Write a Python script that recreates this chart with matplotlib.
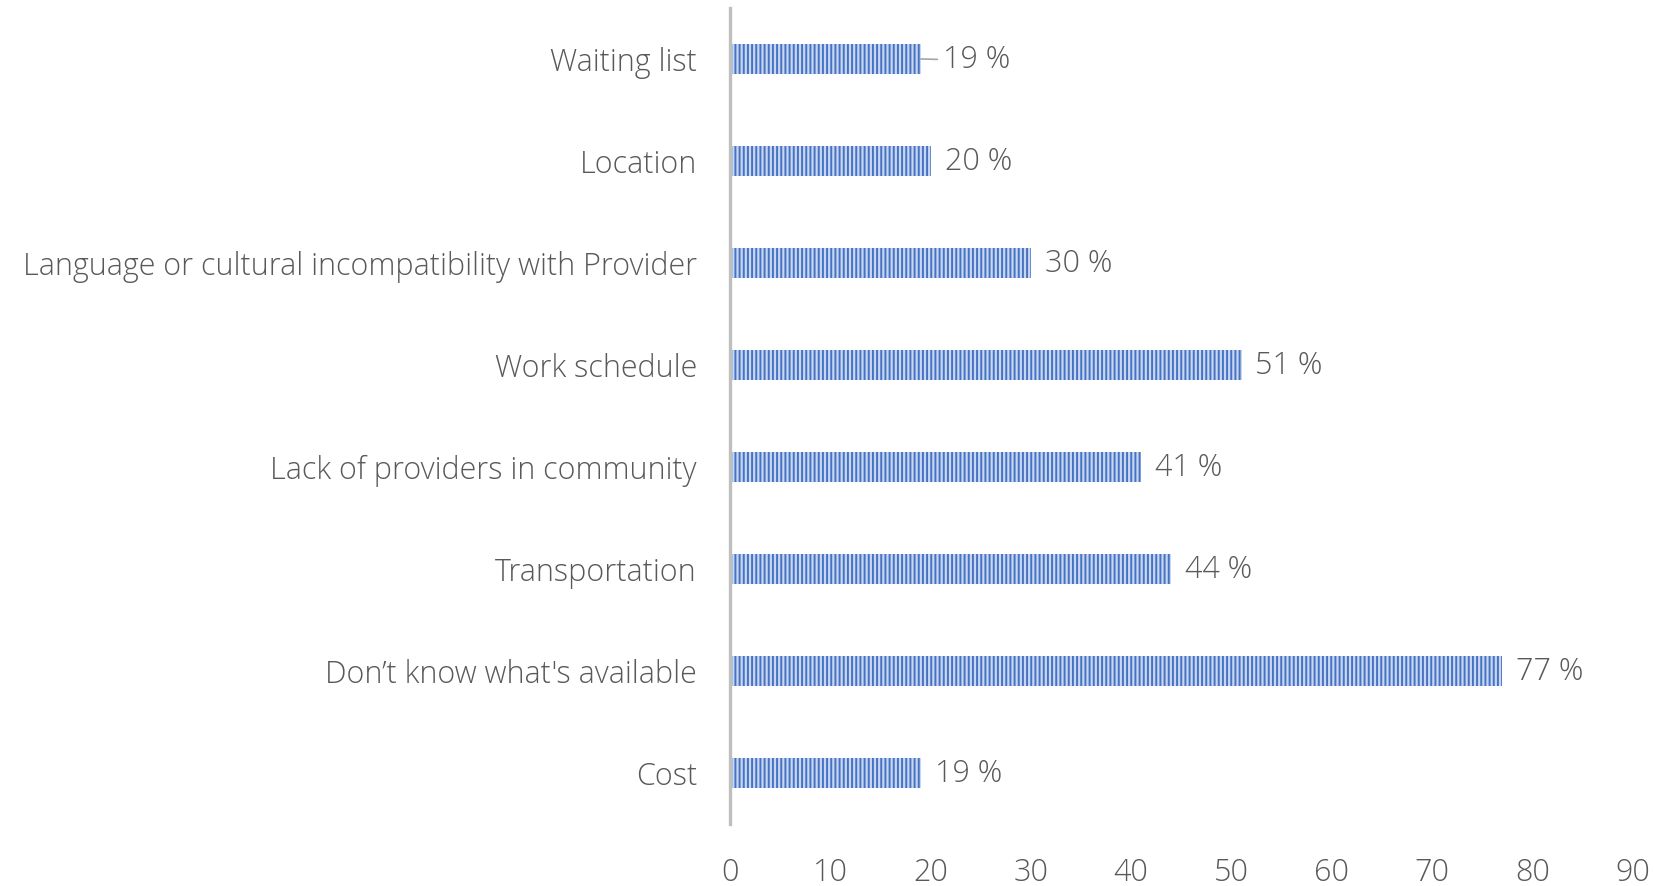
import matplotlib
matplotlib.use("Agg")
import matplotlib.pyplot as plt

# survey answers, listed top to bottom as shown
barriers = [
    "Waiting list",
    "Location",
    "Language or cultural incompatibility with Provider",
    "Work schedule",
    "Lack of providers in community",
    "Transportation",
    "Don\u2019t know what's available",
    "Cost",
]
percent = [19, 20, 30, 51, 41, 44, 77, 19]
xticks = [0, 10, 20, 30, 40, 50, 60, 70, 80, 90]

TEXT = "#595959"
BLUE = "#4472C4"
FS = 22

plt.rcParams["font.family"] = ["Open Sans", "DejaVu Sans"]
plt.rcParams["hatch.linewidth"] = 1.4

fig = plt.figure(figsize=(16.54, 8.86), dpi=100)
ax = fig.add_axes([0.4415, 0.070, 0.5455, 0.921])

ypos = list(range(len(barriers)))
bars = ax.barh(ypos, percent, height=0.30, color="#c8d6f0",
               edgecolor=BLUE, linewidth=0, hatch="||||")

for i, (b, v) in enumerate(zip(bars, percent)):
    y = b.get_y() + b.get_height() / 2
    if i == 0:
        # first label sits a little further out, joined by a leader line
        ax.annotate(f"{v} %", xy=(v, y), xytext=(16, -1), textcoords="offset points",
                    ha="left", va="center", fontsize=FS, color=TEXT, fontweight="light",
                    arrowprops=dict(arrowstyle="-", color="#a6a6a6", lw=1.2,
                                    shrinkA=2, shrinkB=0))
    else:
        ax.annotate(f"{v} %", xy=(v, y), xytext=(10, -1), textcoords="offset points",
                    ha="left", va="center", fontsize=FS, color=TEXT, fontweight="light")

ax.set_xlim(0, 90)
ax.set_ylim(-0.5, len(barriers) - 0.5)
ax.invert_yaxis()
ax.set_xticks(xticks)
ax.set_yticks(ypos)
ax.set_yticklabels(barriers)

for side in ["top", "right", "bottom"]:
    ax.spines[side].set_visible(False)
ax.spines["left"].set_color("#bfbfbf")
ax.spines["left"].set_linewidth(2.4)

ax.tick_params(axis="y", length=0, pad=24, labelsize=FS, labelcolor=TEXT)
ax.tick_params(axis="x", length=0, pad=24, labelsize=FS, labelcolor=TEXT)
for lbl in ax.get_xticklabels() + ax.get_yticklabels():
    lbl.set_fontweight("light")

fig.savefig("out.png", dpi=100, facecolor="white")
